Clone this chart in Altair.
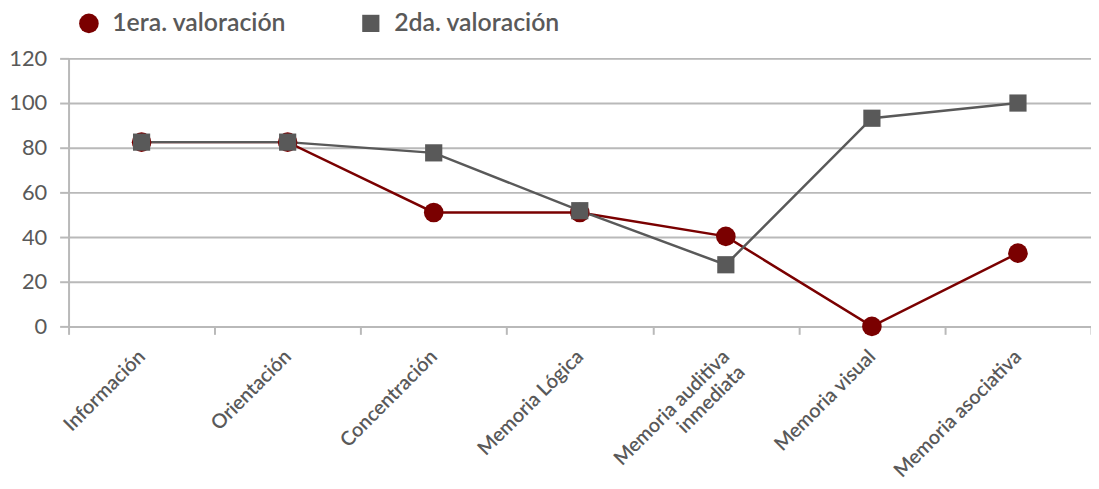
import altair as alt
import pandas as pd

categorias = ["Información", "Orientación", "Concentración", "Memoria Lógica",
              "Memoria auditiva inmediata", "Memoria visual", "Memoria asociativa"]
serie1_nombre = "1era. valoración"
serie2_nombre = "2da. valoración"
serie1 = [82.5, 82.5, 51, 51, 40.3, 0, 32.8]
serie2 = [82.5, 82.5, 77.7, 51.8, 27.6, 93.2, 100]
y_ticks = [0, 20, 40, 60, 80, 100, 120]

rows = []
for c, v in zip(categorias, serie1):
    rows.append({"cat": c, "valor": v, "serie": serie1_nombre})
for c, v in zip(categorias, serie2):
    rows.append({"cat": c, "valor": v, "serie": serie2_nombre})
df = pd.DataFrame(rows)

GRID = "#b9b9b9"
TXT = "#595959"
FONT = "Lato"

x_enc = alt.X(
    "cat:N", sort=categorias, bandPosition=0.5,
    scale=alt.Scale(paddingInner=0, paddingOuter=0),
    axis=alt.Axis(
        title=None, tickBand="extent", grid=False, labelAngle=-45,
        labelAlign="right", labelBaseline="middle", labelFontSize=20,
        labelFontWeight=600,
        labelFont=FONT, labelColor=TXT, labelPadding=19,
        tickSize=8, tickColor=GRID, tickWidth=2, domainColor=GRID,
        domainWidth=2, labelLimit=300,
        labelExpr="datum.value == 'Memoria auditiva inmediata' ? ['Memoria auditiva', 'inmediata'] : datum.label",
    ),
)
y_enc = alt.Y(
    "valor:Q",
    scale=alt.Scale(domain=[0, 120], nice=False),
    axis=alt.Axis(
        title=None, values=y_ticks, grid=True, gridColor=GRID, gridWidth=2,
        labelFontSize=22, labelFont=FONT, labelColor=TXT, labelPadding=13,
        tickSize=9, tickColor=GRID, tickWidth=2, domainColor=GRID,
        domainWidth=2,
    ),
)
leg = alt.Legend(
    title=None, orient="none", direction="horizontal", legendX=8, legendY=-48,
    labelFontSize=25, labelFontWeight=600, labelFont=FONT, labelColor=TXT, symbolSize=330,
    labelOffset=11, columnPadding=72, padding=0, symbolStrokeWidth=0, labelLimit=400,
)
dom = [serie1_nombre, serie2_nombre]
color_enc = alt.Color("serie:N", scale=alt.Scale(domain=dom, range=["#7a0000", "#595959"]), legend=leg)
shape_enc = alt.Shape("serie:N", scale=alt.Scale(domain=dom, range=["circle", "square"]), legend=leg)
size_enc = alt.Size("serie:N", scale=alt.Scale(domain=dom, range=[390, 300]), legend=None)

base = alt.Chart(df)
lines = base.mark_line(strokeWidth=2.5).encode(
    x=x_enc, y=y_enc, color=color_enc, detail="serie:N",
)
points = base.mark_point(filled=True, opacity=1).encode(
    x=x_enc, y=y_enc, color=color_enc, shape=shape_enc, size=size_enc,
)

chart = alt.layer(lines, points).properties(
    width=1030, height=270,
    autosize=alt.AutoSizeParams(type="none"),
    padding={"left": 61, "top": 49, "right": 0, "bottom": 154},
).configure_view(stroke=None).configure(background="white")

chart.save("out.html", embed_options={"renderer": "svg", "actions": False})
